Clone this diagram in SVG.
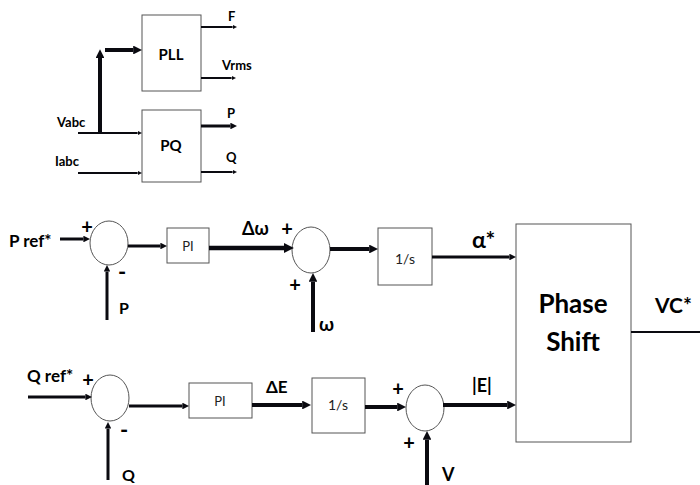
<svg xmlns="http://www.w3.org/2000/svg" width="700" height="485" viewBox="0 0 700 485">
<style>
.box{fill:#fff;stroke:#555;stroke-width:1}
.sum{fill:#fff;stroke:#555;stroke-width:1}
.w{stroke:#0a0a10;fill:none}
.b{font-family:Lato,"Liberation Sans",sans-serif;font-weight:bold;fill:#000}
.r{font-family:Lato,"Liberation Sans",sans-serif;fill:#222}
</style>
<defs>
<marker id="a" viewBox="0 0 10 10" refX="0" refY="5" markerWidth="2.2" markerHeight="2.2" orient="auto">
<path d="M0,0 L10,5 L0,10 z" fill="#0a0a10"/>
</marker>
</defs>
<rect width="700" height="485" fill="#fff"/>

<g id="pll"><rect class="box" x="142" y="15" width="59" height="76"/><text class="b" x="171" y="60" font-size="15" text-anchor="middle">PLL</text></g>
<g id="pq"><rect class="box" x="142" y="110" width="59" height="72"/><text class="b" x="171" y="151" font-size="15" text-anchor="middle">PQ</text></g>
<g id="sum1"><ellipse class="sum" cx="109" cy="243" rx="19" ry="22"/></g>
<g id="pi1"><rect class="box" x="167" y="228" width="42" height="35"/><text class="r" x="188" y="251" font-size="13" text-anchor="middle">PI</text></g>
<g id="sum2"><ellipse class="sum" cx="311" cy="250" rx="19" ry="23"/></g>
<g id="int1"><rect class="box" x="378" y="228" width="54" height="57"/><text class="r" x="405" y="264" font-size="14" text-anchor="middle">1/s</text></g>
<g id="sum3"><ellipse class="sum" cx="110" cy="398" rx="19" ry="23"/></g>
<g id="pi2"><rect class="box" x="189" y="383" width="63" height="35"/><text class="r" x="220" y="406" font-size="13" text-anchor="middle">PI</text></g>
<g id="int2"><rect class="box" x="312" y="378" width="53" height="55"/><text class="r" x="338" y="410" font-size="14" text-anchor="middle">1/s</text></g>
<g id="sum4"><ellipse class="sum" cx="425" cy="408" rx="19" ry="23"/></g>
<g id="phase"><rect class="box" x="516" y="224" width="115" height="218"/><text class="b" x="573" y="313" font-size="26" text-anchor="middle">Phase</text><text class="b" x="573" y="351" font-size="26" text-anchor="middle">Shift</text></g>

<g id="connectors">
<line class="w" stroke-width="2" x1="78" y1="133" x2="137.6" y2="133" marker-end="url(#a)"/>
<line class="w" stroke-width="4" x1="100" y1="134" x2="100" y2="58" marker-end="url(#a)"/>
<line class="w" stroke-width="4" x1="105" y1="50" x2="133.2" y2="50" marker-end="url(#a)"/>
<line class="w" stroke-width="2" x1="78" y1="173" x2="137.6" y2="173" marker-end="url(#a)"/>
<line class="w" stroke-width="2" x1="201" y1="27" x2="232.6" y2="27" marker-end="url(#a)"/>
<line class="w" stroke-width="2" x1="201" y1="78" x2="231.6" y2="78" marker-end="url(#a)"/>
<line class="w" stroke-width="3" x1="201" y1="126" x2="230.4" y2="126" marker-end="url(#a)"/>
<line class="w" stroke-width="2" x1="201" y1="172" x2="232.6" y2="172" marker-end="url(#a)"/>

<line class="w" stroke-width="3" x1="60" y1="239" x2="83.4" y2="239" marker-end="url(#a)"/>
<line class="w" stroke-width="3" x1="107" y1="320" x2="107" y2="271.6" marker-end="url(#a)"/>
<line class="w" stroke-width="3" x1="128" y1="246" x2="160.4" y2="246" marker-end="url(#a)"/>
<line class="w" stroke-width="4.5" x1="209" y1="248" x2="284" y2="248" marker-end="url(#a)"/>
<line class="w" stroke-width="4" x1="313" y1="332" x2="313" y2="281.8" marker-end="url(#a)"/>
<line class="w" stroke-width="4" x1="330" y1="249" x2="369.2" y2="249" marker-end="url(#a)"/>
<line class="w" stroke-width="3" x1="432" y1="257" x2="509.4" y2="257" marker-end="url(#a)"/>
<line class="w" stroke-width="3" x1="28" y1="397" x2="85.4" y2="397" marker-end="url(#a)"/>
<line class="w" stroke-width="3" x1="108" y1="480" x2="108" y2="428.6" marker-end="url(#a)"/>
<line class="w" stroke-width="3" x1="129" y1="406" x2="182.4" y2="406" marker-end="url(#a)"/>
<line class="w" stroke-width="4" x1="252" y1="405" x2="302.2" y2="405" marker-end="url(#a)"/>
<line class="w" stroke-width="4" x1="365" y1="407" x2="397.2" y2="407" marker-end="url(#a)"/>
<line class="w" stroke-width="4" x1="427" y1="485" x2="427" y2="439.8" marker-end="url(#a)"/>
<line class="w" stroke-width="4" x1="443" y1="405" x2="507.2" y2="405" marker-end="url(#a)"/>
<line class="w" stroke-width="2" x1="631" y1="332" x2="700" y2="332"/>
</g>

<g id="labels">
<text class="b" x="228" y="21" font-size="13">F</text>
<text class="b" x="222" y="70" font-size="13">Vrms</text>
<text class="b" x="227" y="118" font-size="13">P</text>
<text class="b" x="226" y="162" font-size="13">Q</text>
<text class="b" x="57" y="127" font-size="13">Vabc</text>
<text class="b" x="55" y="166" font-size="13">Iabc</text>

<text class="b" x="9" y="247" font-size="17">P ref*</text>
<text class="b" x="87" y="234" font-size="20" text-anchor="middle">+</text>
<text class="b" x="122" y="280" font-size="22" text-anchor="middle">-</text>
<text class="b" x="119" y="314" font-size="16">P</text>
<text class="b" x="242" y="235" font-size="18">Δω</text>
<text class="b" x="287" y="236" font-size="20" text-anchor="middle">+</text>
<text class="b" x="295" y="292" font-size="20" text-anchor="middle">+</text>
<text class="b" x="319" y="331" font-size="19">ω</text>
<text class="b" x="472" y="248" font-size="23">α*</text>

<text class="b" x="27" y="382" font-size="17">Q ref*</text>
<text class="b" x="88" y="387" font-size="20" text-anchor="middle">+</text>
<text class="b" x="124" y="438" font-size="22" text-anchor="middle">-</text>
<text class="b" x="122" y="481" font-size="16">Q</text>
<text class="b" x="266" y="393" font-size="17">ΔE</text>
<text class="b" x="398" y="396" font-size="20" text-anchor="middle">+</text>
<text class="b" x="409" y="450" font-size="20" text-anchor="middle">+</text>
<text class="b" x="442" y="481" font-size="18">V</text>
<text class="b" x="472" y="392" font-size="18">|E|</text>
<text class="b" x="655" y="313" font-size="21">VC*</text>
</g>
</svg>
